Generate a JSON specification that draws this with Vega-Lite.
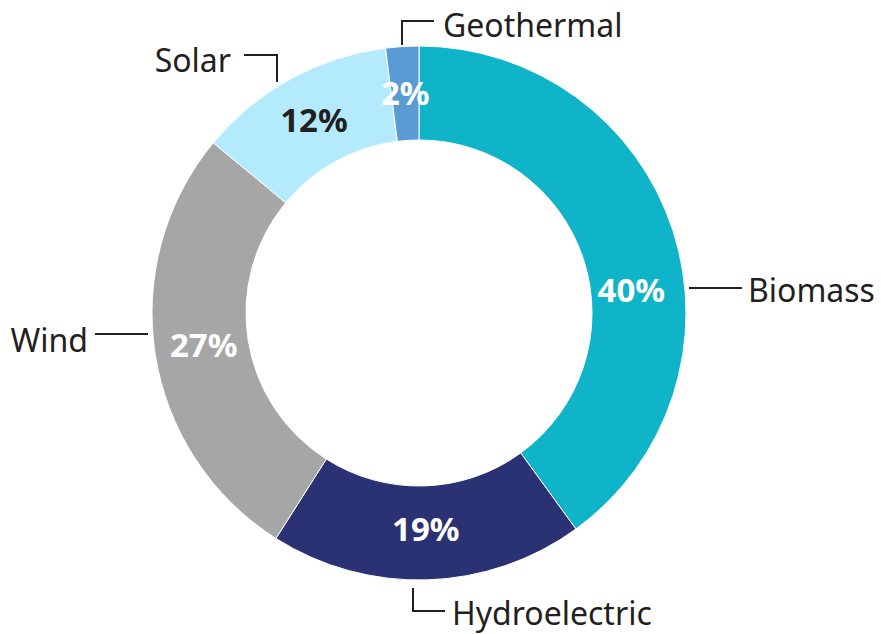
{
  "$schema": "https://vega.github.io/schema/vega-lite/v6.json",
  "width": 838,
  "height": 626,
  "autosize": {"type": "none"},
  "padding": {"left": 0, "top": 0, "right": 43, "bottom": 8},
  "background": "white",
  "config": {"view": {"stroke": null}},
  "datasets": {
    "energy": [
      {"source": "Biomass", "value": 40, "idx": 1},
      {"source": "Hydroelectric", "value": 19, "idx": 2},
      {"source": "Wind", "value": 27, "idx": 3},
      {"source": "Solar", "value": 12, "idx": 4},
      {"source": "Geothermal", "value": 2, "idx": 5}
    ],
    "leaders": [
      {"source": "Geothermal", "pt": 1, "u": -0.0637, "v": 1.0037},
      {"source": "Geothermal", "pt": 2, "u": -0.0637, "v": 1.0936},
      {"source": "Geothermal", "pt": 3, "u": 0.0562, "v": 1.0936},
      {"source": "Solar", "pt": 1, "u": -0.6554, "v": 0.9663},
      {"source": "Solar", "pt": 2, "u": -0.5318, "v": 0.9663},
      {"source": "Solar", "pt": 3, "u": -0.5318, "v": 0.8652},
      {"source": "Biomass", "pt": 1, "u": 1.0112, "v": 0.0936},
      {"source": "Biomass", "pt": 2, "u": 1.2097, "v": 0.0936},
      {"source": "Wind", "pt": 1, "u": -1.2135, "v": -0.0787},
      {"source": "Wind", "pt": 2, "u": -1.015, "v": -0.0787},
      {"source": "Hydroelectric", "pt": 1, "u": -0.0225, "v": -1.03},
      {"source": "Hydroelectric", "pt": 2, "u": -0.0225, "v": -1.1161},
      {"source": "Hydroelectric", "pt": 3, "u": 0.0974, "v": -1.1161}
    ],
    "labels": [
      {"source": "Geothermal", "u": 0.0899, "v": 1.0337},
      {"source": "Solar", "u": -0.7041, "v": 0.9026},
      {"source": "Biomass", "u": 1.2322, "v": 0.0412},
      {"source": "Wind", "u": -1.2397, "v": -0.1461},
      {"source": "Hydroelectric", "u": 0.1236, "v": -1.1685}
    ]
  },
  "layer": [
    {
      "data": {"name": "energy"},
      "mark": {"type": "arc", "innerRadius": 173, "outerRadius": 267, "stroke": "white", "strokeWidth": 1},
      "encoding": {
        "theta": {"field": "value", "type": "quantitative", "scale": {"domain": [0, 100]}},
        "order": {"field": "idx", "type": "quantitative"},
        "color": {
          "field": "source",
          "type": "nominal",
          "scale": {
            "domain": ["Biomass", "Hydroelectric", "Wind", "Solar", "Geothermal"],
            "range": ["#10b4c8", "#2b3274", "#a6a6a6", "#b3ebfd", "#5b9bd5"]
          },
          "legend": null
        }
      }
    },
    {
      "data": {"name": "energy"},
      "transform": [
        {"window": [{"op": "sum", "field": "value", "as": "cum"}], "sort": [{"field": "idx"}], "frame": [null, 0]},
        {"calculate": "datum.cum - datum.value / 2", "as": "mid"},
        {"calculate": "datum.value + '%'", "as": "pct"},
        {"filter": "datum.source !== 'Biomass'"}
      ],
      "mark": {"type": "text", "radius": 218, "font": "Noto Sans", "fontSize": 33, "fontWeight": "bold", "baseline": "middle", "align": "center"},
      "encoding": {
        "theta": {"field": "mid", "type": "quantitative", "stack": null, "scale": {"domain": [0, 100]}},
        "text": {"field": "pct"},
        "color": {"condition": {"test": "datum.source === 'Solar'", "value": "#231f20"}, "value": "white"}
      }
    },
    {
      "data": {"name": "energy"},
      "transform": [
        {"window": [{"op": "sum", "field": "value", "as": "cum"}], "sort": [{"field": "idx"}], "frame": [null, 0]},
        {"calculate": "datum.cum - datum.value / 2", "as": "mid"},
        {"calculate": "datum.value + '%'", "as": "pct"},
        {"filter": "datum.source === 'Biomass'"}
      ],
      "mark": {"type": "text", "radius": 218, "dx": 5, "dy": 46, "font": "Noto Sans", "fontSize": 33, "fontWeight": "bold", "baseline": "middle", "align": "center", "color": "white"},
      "encoding": {
        "theta": {"field": "mid", "type": "quantitative", "stack": null, "scale": {"domain": [0, 100]}},
        "text": {"field": "pct"}
      }
    },
    {
      "data": {"name": "leaders"},
      "mark": {"type": "line", "color": "#231f20", "strokeWidth": 2, "strokeJoin": "miter", "strokeCap": "butt"},
      "encoding": {
        "x": {"field": "u", "type": "quantitative", "scale": {"domain": [-1.5693, 1.5693], "nice": false, "zero": false}, "axis": null},
        "y": {"field": "v", "type": "quantitative", "scale": {"domain": [-1.1723, 1.1723], "nice": false, "zero": false}, "axis": null},
        "detail": {"field": "source"},
        "order": {"field": "pt", "type": "quantitative"}
      }
    },
    {
      "data": {"name": "labels"},
      "transform": [{"filter": "datum.source !== 'Solar' && datum.source !== 'Wind'"}],
      "mark": {"type": "text", "align": "left", "baseline": "alphabetic", "font": "Noto Sans", "fontSize": 32, "color": "#231f20"},
      "encoding": {
        "x": {"field": "u", "type": "quantitative", "scale": {"domain": [-1.5693, 1.5693], "nice": false, "zero": false}, "axis": null},
        "y": {"field": "v", "type": "quantitative", "scale": {"domain": [-1.1723, 1.1723], "nice": false, "zero": false}, "axis": null},
        "text": {"field": "source"}
      }
    },
    {
      "data": {"name": "labels"},
      "transform": [{"filter": "datum.source === 'Solar' || datum.source === 'Wind'"}],
      "mark": {"type": "text", "align": "right", "baseline": "alphabetic", "font": "Noto Sans", "fontSize": 32, "color": "#231f20"},
      "encoding": {
        "x": {"field": "u", "type": "quantitative", "scale": {"domain": [-1.5693, 1.5693], "nice": false, "zero": false}, "axis": null},
        "y": {"field": "v", "type": "quantitative", "scale": {"domain": [-1.1723, 1.1723], "nice": false, "zero": false}, "axis": null},
        "text": {"field": "source"}
      }
    }
  ]
}
